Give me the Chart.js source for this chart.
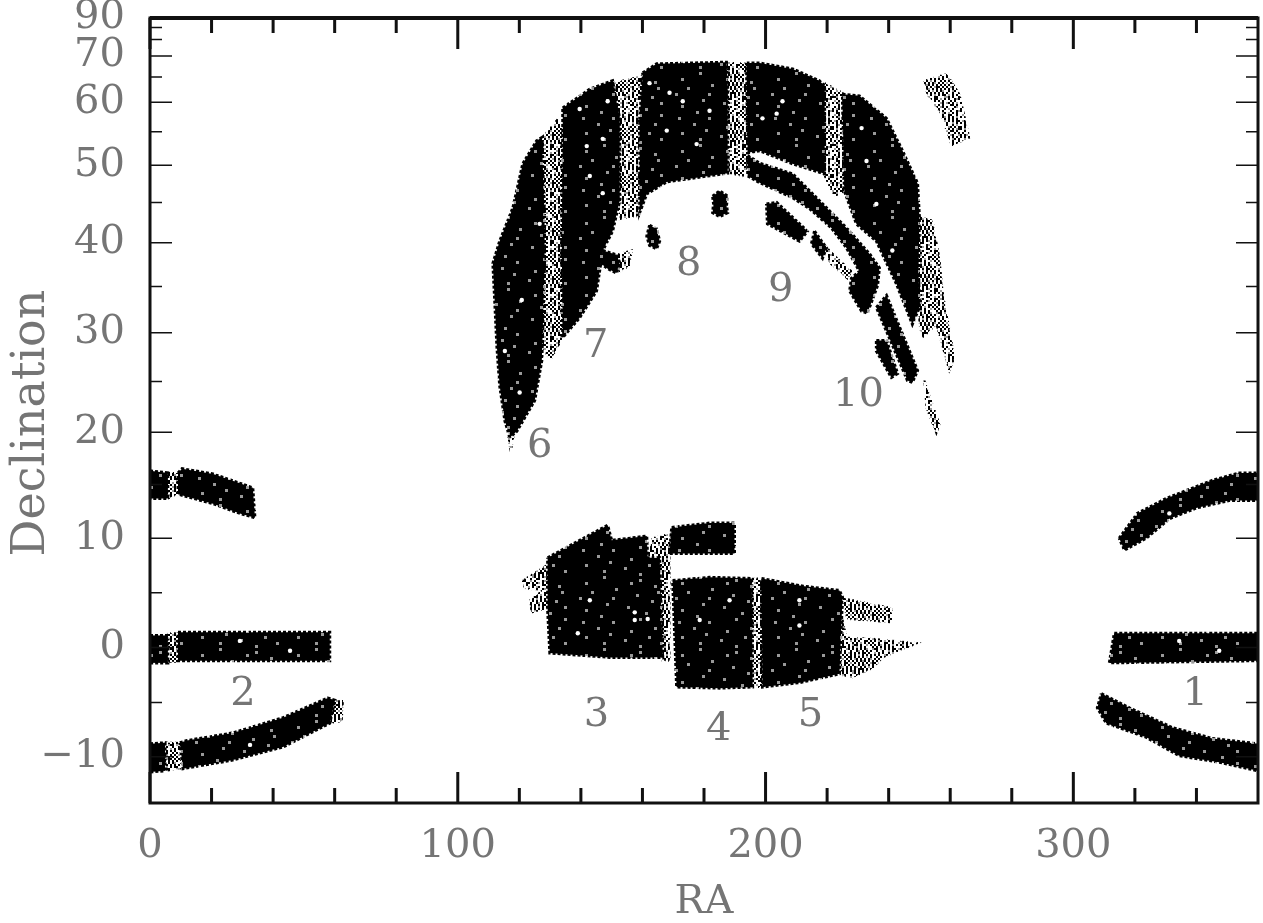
<!DOCTYPE html>
<html>
<head>
<meta charset="utf-8">
<title>Declination vs RA</title>
<script src="https://cdn.jsdelivr.net/npm/chart.js@4"></script>
<style>
    html, body { margin: 0; padding: 0; background: #fff; }
    canvas { display: block; filter: blur(0.7px); }
</style>
</head>
<body>
<canvas id="grafico" width="1263" height="923"></canvas>
<script>
// Axis ticks
const raTicks = [0, 100, 200, 300];
const raMinorTicks = [20, 40, 60, 80, 120, 140, 160, 180, 220, 240, 260, 280, 320, 340];
const decTicks = [-10, 0, 10, 20, 30, 40, 50, 60, 70, 90];
const decLabels = ["\u221210", "0", "10", "20", "30", "40", "50", "60", "70", "90"];
const decLongTicks = [-10, 0, 10, 20, 30, 40, 50, 60, 70];
const decMinorTicks = [-5, 5, 15, 25, 35, 45, 55, 65, 75, 80];
const decMin = -14.3;
const decMax = 90;

// Stripe numbers: [text, RA, Dec]
const stripeLabels = [
    ["1", 339.6, -4.3], ["2", 30.2, -4.3], ["3", 145.1, -6.2], ["4", 184.8, -7.5], ["5", 214.6, -6.2],
    ["6", 126.6, 18.6], ["7", 144.8, 28.6], ["8", 175, 37.5], ["9", 204.9, 34.5], ["10", 230.2, 23.6]
];

// Survey footprints, [RA, Dec] outlines. Dense areas
const north6 = [[116.9,19.5],[115.3,21.1],[113.6,24.6],[112.7,28.6],[112,33.4],[111.4,37.6],[113.6,40.2],[117.9,44.3],[121.1,50.2],[125.6,53.6],[127.3,54.1],[128.2,43.1],[128.2,37.6],[127.6,30.2],[127.3,27.1],[125,23.1],[119.2,20.1]];
const north7 = [[134.1,59],[142.9,62.5],[150.3,64.2],[152.6,57.2],[152.6,45.2],[150.3,41.4],[147.1,39.1],[145.1,34.5],[139.6,31.6],[134.1,29.5],[133.8,39.1],[134.1,55.2]];
const north8 = [[160.1,65.9],[164.6,68],[187.3,68.4],[187.7,63.5],[187.7,48.9],[167.9,47.7],[161.4,46.1],[159.1,43.7],[159.1,57.2]];
const north9 = [[193.8,68.2],[198.1,68.2],[208.8,66.8],[217.5,64.2],[219.2,63.1],[219.2,48.8],[208.8,50.2],[198.1,52.1],[194.2,51.8]];
const north10 = [[225,61.5],[230.5,61.2],[239.3,57.2],[244.5,52.1],[249.4,47.5],[250,43.1],[249.7,36.7],[250,32.7],[247.7,30.9],[242.5,35.3],[236,40.2],[229.5,42.3],[225.6,46.5],[225,60.2]];
const arc9Low = [[194.2,51.4],[198.1,50.3],[208.8,48.8],[219.8,44.3],[226.3,41.8],[233.8,38.7],[237,37.1],[236.4,35.1],[233.1,32.1],[231.2,32.3],[227.3,34.5],[227.9,35.9],[230.5,36.7],[226.3,39.4],[221.4,41.8],[214.3,44.2],[208.8,45.6],[198.1,47.6],[194.2,48.5]];
const arc10Long = [[236,32.7],[239.3,34],[249.4,26.1],[247.7,24.9],[246.1,25.1]];
const arc10Short = [[236,29.2],[239.3,29.2],[242.9,25.8],[240.9,25.4],[236,28.1]];
const arc9Piece = [[200.3,44.8],[203.6,45],[213.6,41.4],[211,40.2],[200.6,42.3]];
const arc9Small = [[215.9,41.4],[219.8,39.4],[218.5,38.2],[214.9,39.9]];
const blob8 = [[182.8,45.8],[185.1,46.5],[187.7,45.8],[187.3,44.6],[187.7,43.7],[185.1,43.2],[182.8,43.7],[183.1,44.8]];
const blob7 = [[162.3,42.1],[164.6,41.7],[165.6,40.2],[164.6,39.3],[162.3,39.7],[161.4,40.8]];
const blob6 = [[147.1,39.1],[151.6,38.6],[152.6,37.7],[151.6,36.5],[148.7,37],[146.1,37.7]];
const equator3 = [[129.2,8.2],[143.5,10.4],[148.7,11.2],[150,9.8],[161.4,10.2],[161.7,8.2],[165.6,8.2],[166.6,-0.9],[149.4,-0.9],[129.9,-0.5],[129.2,3.4]];
const equator4Top = [[169.5,11],[181.8,11.4],[189.9,11.4],[189.9,8.6],[168.8,8.6]];
const equator4 = [[169.8,6.1],[181.8,6.4],[195.5,6.3],[195.8,-3.6],[185.1,-3.7],[171.1,-3.6]];
const equator5 = [[198.7,6.3],[212,5.6],[224,5.2],[225,4.6],[224,-2.4],[211,-3.2],[199,-3.6]];
const west2Top = [[0,16.3],[5.8,16.1],[5.8,13.7],[0,13.7]];
const west2TopB = [[9.1,16.1],[10.4,16.5],[20.5,16],[33.4,14.7],[34.1,11.9],[29.2,12.3],[20.5,13.2],[9.1,14.1]];
const west2Mid = [[0,1.1],[5.8,1.1],[5.8,-1.4],[0,-1.4]];
const west2MidB = [[9.1,1.4],[58.4,1.4],[58.4,-1.2],[9.1,-1.2]];
const west2Low = [[0,-8.8],[4.9,-8.7],[4.9,-11.3],[0,-11.4]];
const west2LowB = [[9.7,-8.7],[12,-8.5],[26.9,-7.8],[43.2,-6.4],[57.8,-4.6],[60.1,-4.8],[58.4,-6.9],[43.2,-9.1],[26.9,-10.3],[10.7,-11.1]];
const east1Top = [[314.9,10],[320.8,12.3],[330.2,13.7],[345.1,15.4],[353.9,16.1],[360,16.1],[360,13.5],[350.6,13.5],[339.9,12.8],[331.2,11.8],[323.7,10],[316.6,8.9]];
const east1Mid = [[313.3,1.3],[360,1.3],[360,-1.2],[311.7,-1.4]];
const east1Low = [[309.1,-4.2],[318.2,-5.5],[332.1,-7.3],[345.1,-8.3],[360,-8.8],[360,-11.3],[347.4,-10.5],[334.4,-9.9],[323.7,-8.2],[310.7,-6.9],[307.8,-5.5]];

// Sparse areas
const gap6Tip = [[116.2,19.5],[118.2,19.5],[117.2,18.2]];
const gap67 = [[126.6,53.6],[132.5,57.1],[134.1,55.2],[134.1,39.1],[134.1,29.5],[129.9,27.1],[127.6,28.6],[128.2,43.1]];
const gap78 = [[150,63.7],[160.1,65.2],[159.1,57.2],[159.1,43.3],[152.6,42.9],[152.6,57.2]];
const gap89 = [[187.7,68.2],[193.8,68.2],[194.2,51.4],[193.2,48.4],[188.3,48.9]];
const gap910 = [[219.2,63.7],[225,61.8],[225.6,46.5],[222.4,45.8],[219.2,48.5]];
const edge10 = [[250,43.1],[254.2,42.7],[256.5,38.2],[257.5,34.5],[261.4,27.4],[259.7,26.1],[255.5,30.9],[251,29.5],[250,30.9],[249.7,36.7]];
const tail10 = [[251.6,25.1],[253.2,23.6],[256.5,20.8],[255.5,19.9],[252.3,22.4]];
const patchNorth = [[251.6,64.2],[258.8,65.7],[263,61.5],[266.2,54.1],[260.4,52.8],[257.1,58],[252.6,61.5]];
const blob6Edge = [[151.6,38.6],[156.5,39.1],[155.8,37.3],[152.6,36.7]];
const arc9Dots = [[219.2,39.7],[222.4,38.5],[227.9,36.7],[226.6,35.9],[220.8,37.7]];
const wing3 = [[121.1,6.1],[128.9,7.5],[129.2,3.6],[124,3.2],[123.4,4.3],[127.6,5.2],[121.8,5.4]];
const gap34 = [[163.3,10],[168.8,10.4],[168.8,-1.2],[166.6,-1.2],[165.6,8.2],[161.7,8.2]];
const gap45 = [[195.5,6.3],[199,6.3],[199.7,-3.6],[195.8,-3.6]];
const wing5Top = [[225,4.5],[240.9,3.6],[240.9,2.3],[226.6,2.6]];
const wing5Low = [[225,2.6],[226.3,0.9],[234.7,0.8],[249.4,0.4],[238,-0.9],[234.7,-1.9],[228.2,-2.7],[224.7,-2.5]];
const gap2Top = [[5.8,16.1],[9.1,16.1],[9.1,14.1],[5.8,13.7]];
const gap2Mid = [[5.8,1.3],[9.1,1.3],[9.1,-1.3],[5.8,-1.3]];
const gap2Low = [[4.9,-8.7],[9.7,-8.7],[9.7,-11.1],[4.9,-11.3]];
const tip2Low = [[60.1,-4.8],[62.7,-4.8],[62.3,-6.7],[58.4,-6.9]];

// Empty spots inside the dense areas
const holes = [[231.2,55.6],[162.3,63.7],[148.7,60.2],[147.1,53.9],[147.1,46.2],[126.6,42.3],[157.5,2.5],[157.5,3.2],
    [161.7,2.6],[139,1.3],[120.1,23.9],[120.8,33.5],[115.3,28.1],[331.2,12.3],[211,2],
    [168.8,61.8],[139.6,58.8],[141.9,52.8],[142.9,48.5],[177.6,53.1],[173.1,60.2],[167.9,55.2],[181.8,58.5],
    [199,57.2],[205.5,60.2],[203.6,58],[232.8,50.6],[236,44.8],[241.2,39.1],[142.9,4.3],[178.6,2.5],[188.3,4.3],
    [211,4.3],[29.2,0.6],[45.5,-0.3],[334.4,0.6],[347.4,-0.3],[32.5,-8.9]];

const denseAreas = [north6, north7, north8, north9, north10, arc9Low, arc10Long, arc10Short, arc9Piece, arc9Small,
    blob8, blob7, blob6, equator3, equator4Top, equator4, equator5, west2Top, west2TopB, west2Mid, west2MidB,
    west2Low, west2LowB, east1Top, east1Mid, east1Low];
const sparseAreas = [gap6Tip, gap67, gap78, gap89, gap910, edge10, tail10, patchNorth, blob6Edge, arc9Dots,
    wing3, gap34, gap45, wing5Top, wing5Low, gap2Top, gap2Mid, gap2Low, tip2Low];

// Speckle textures for the fills
const denseTile = [
    "#########+######################",
    "#####################+##########",
    "###+##############+#############",
    "##########################+#####",
    "#############+##################",
    "#####+#####################+#####",
    "####################+###########",
    "#+##########+###################",
    "#########################+######",
    "##########+#####################",
    "#################+##########+###",
    "###+############################",
    "#######################+########",
    "########+#######################",
    "#####################+######+###",
    "##+#########+###################",
    "################################",
    "#######+##################+#####",
    "##################+#############",
    "###########+####################",
    "###+####################+#######",
    "################+###############",
    "#########+##################+###",
    "#####################+##########"
];
const sparseTile = [
    "##+..#.#..+#.#.#+..##...++#.#..#",
    "..#..+#..#..##...#.##.+.#.#..#+#",
    ".+.#.##..+.#...#+..#.#.#...#.#..",
    "#.#+...##.#.#+.#.#....+#.+#.#.+.",
    "...#.+.#..##...##..+.#.#...##.#.",
    ".#.#.#..+.#.+#...#.##.+#.#...#+.",
    "#.+#..#.#...#..#+..#.#..#.+.#...",
    "#.#...+#.#.#+.#...#.+#.#...#..#+",
    "..##.#...+.#.#..##.#.#.+#.+.#.#.",
    ".+.#.#.#..#.#.+.#.#.#..#..##..#.",
    "#.#+.#..#.+##.#..+.#.#.#+.#.#.+.",
    "...#.##.#.#.+.#.#...#.#.#.#.#.#.",
    ".+#.#..+#.#.#.#.#+..+##.+.#.#.##",
    "#.#.#.#..#..#+.#.#.#..#..#..+.#.",
    "..#+..#.+#.#.#.##.#..+.#.#..#.+.",
    "#.#..#.#.#.#.+.#.#.#.#.#..+#.#.#",
    "#.+.#.#.##.#.#.#.+.#..#.#.#.#.+#",
    "..#..+.#.#.+#.#.#.#+.#.#.+.##.#.",
    ".#..#.#.#.#.#.#+#.#.#.#.#.#..#.#",
    "#.#+..##.+.#.#.#.#.+##.#.#.+#..+",
    "#.#.#.#.#.#..#.#+.#.#.#.#.#.#.#.",
    "..+.#+.#.#.#+.#.#.+.#.#+..#.+#.#",
    ".#.#.#.#.#.#.###.#.#.#.#.#..#..#",
    "+.#.##.#.#+#.#.#.#.+.#.##.+.#.#.",
];

function sinDec(dec) {
    return Math.sin(dec * Math.PI / 180);
}

function crearTextura(tile, size) {
    const c = document.createElement("canvas");
    c.width = tile[0].length * size;
    c.height = tile.length * size;
    const g = c.getContext("2d");
    g.fillStyle = "#fff";
    g.fillRect(0, 0, c.width, c.height);
    tile.forEach((row, j) => {
        [...row].forEach((ch, i) => {
            if (ch === ".") return;
            g.fillStyle = ch === "#" ? "#000" : "#999";
            g.fillRect(i * size, j * size, size, size);
        });
    });
    return g.createPattern(c, "repeat");
}

const ctx = document.getElementById("grafico").getContext("2d");
const texturaDensa = crearTextura(denseTile, 3);
const texturaRala = crearTextura(sparseTile, 2);

function area(points, textura, borde) {
    const closed = points.concat([points[0]]);
    return {
        data: closed.map(p => ({ x: p[0], y: sinDec(p[1]) })),
        showLine: true,
        fill: "shape",
        tension: 0,
        pointRadius: 0,
        backgroundColor: textura,
        borderColor: textura,
        borderWidth: borde,
        borderDash: [3, 2]
    };
}

const holesDataset = {
    data: holes.map(p => ({ x: p[0], y: sinDec(p[1]) })),
    showLine: false,
    pointRadius: 2.2,
    pointBorderWidth: 0,
    pointBackgroundColor: "#fff"
};

const textColor = "#757575";
const fontFamily = "'DejaVu Serif', serif";

const marcoPlugin = {
    id: "marco",
    afterDraw(chart) {
        const { ctx, chartArea: a, scales: { x, y } } = chart;
        ctx.save();
        ctx.strokeStyle = "#111";

        const tickX = (v, len, w) => {
            const px = x.getPixelForValue(v);
            ctx.lineWidth = w;
            ctx.beginPath();
            ctx.moveTo(px, a.bottom); ctx.lineTo(px, a.bottom - len);
            ctx.moveTo(px, a.top); ctx.lineTo(px, a.top + len);
            ctx.stroke();
        };
        const tickY = (d, len) => {
            const py = y.getPixelForValue(sinDec(d));
            ctx.lineWidth = 1.5;
            ctx.beginPath();
            ctx.moveTo(a.left, py); ctx.lineTo(a.left + len, py);
            ctx.moveTo(a.right, py); ctx.lineTo(a.right - len, py);
            ctx.stroke();
        };
        raTicks.forEach(v => tickX(v, 31, 3));
        raMinorTicks.forEach(v => tickX(v, 15, 3));
        decLongTicks.forEach(d => tickY(d, 22));
        decMinorTicks.forEach(d => tickY(d, 12));

        ctx.lineWidth = 3;
        ctx.strokeRect(a.left, a.top, a.right - a.left, a.bottom - a.top);
        ctx.lineWidth = 4;
        ctx.beginPath();
        ctx.moveTo(a.left, a.top); ctx.lineTo(a.right, a.top);
        ctx.stroke();

        ctx.fillStyle = textColor;
        ctx.textAlign = "center";
        ctx.textBaseline = "middle";
        ctx.font = "40px " + fontFamily;
        stripeLabels.forEach(l => {
            ctx.fillText(l[0], x.getPixelForValue(l[1]), y.getPixelForValue(sinDec(l[2])));
        });

        ctx.font = "46px " + fontFamily;
        ctx.translate(32, 423);
        ctx.rotate(-Math.PI / 2);
        ctx.fillText("Declination", 0, 0);
        ctx.restore();
    }
};

// Chart.js paints the first dataset last, so holes go first and sparse areas last
new Chart(ctx, {
    type: "scatter",
    data: {
        datasets: [holesDataset]
            .concat(denseAreas.map(p => area(p, texturaDensa, 3)))
            .concat(sparseAreas.map(p => area(p, texturaRala, 2)))
    },
    options: {
        responsive: false,
        animation: false,
        layout: { padding: { top: 18, right: 5, left: 0, bottom: 0 } },
        plugins: { legend: { display: false }, tooltip: { enabled: false } },
        scales: {
            x: {
                type: "linear",
                min: 0,
                max: 360,
                grid: { display: false, drawTicks: false },
                border: { display: false },
                afterBuildTicks: axis => { axis.ticks = raTicks.map(v => ({ value: v })); },
                afterFit: axis => { axis.height = 120; axis.paddingLeft = 0; axis.paddingRight = 0; },
                ticks: {
                    autoSkip: false,
                    maxRotation: 0,
                    padding: 20,
                    color: textColor,
                    font: { family: fontFamily, size: 40 }
                },
                title: {
                    display: true,
                    text: "RA",
                    color: textColor,
                    padding: 0,
                    font: { family: fontFamily, size: 40, lineHeight: 1 }
                }
            },
            y: {
                type: "linear",
                min: sinDec(decMin),
                max: sinDec(decMax),
                grid: { display: false, drawTicks: false },
                border: { display: false },
                afterBuildTicks: axis => { axis.ticks = decTicks.map(d => ({ value: sinDec(d) })); },
                afterFit: axis => { axis.width = 150; axis.paddingTop = 0; axis.paddingBottom = 0; },
                ticks: {
                    autoSkip: false,
                    padding: 25,
                    color: textColor,
                    font: { family: fontFamily, size: 40 },
                    callback: (value, index) => decLabels[index]
                }
            }
        }
    },
    plugins: [marcoPlugin]
});
</script>
</body>
</html>
